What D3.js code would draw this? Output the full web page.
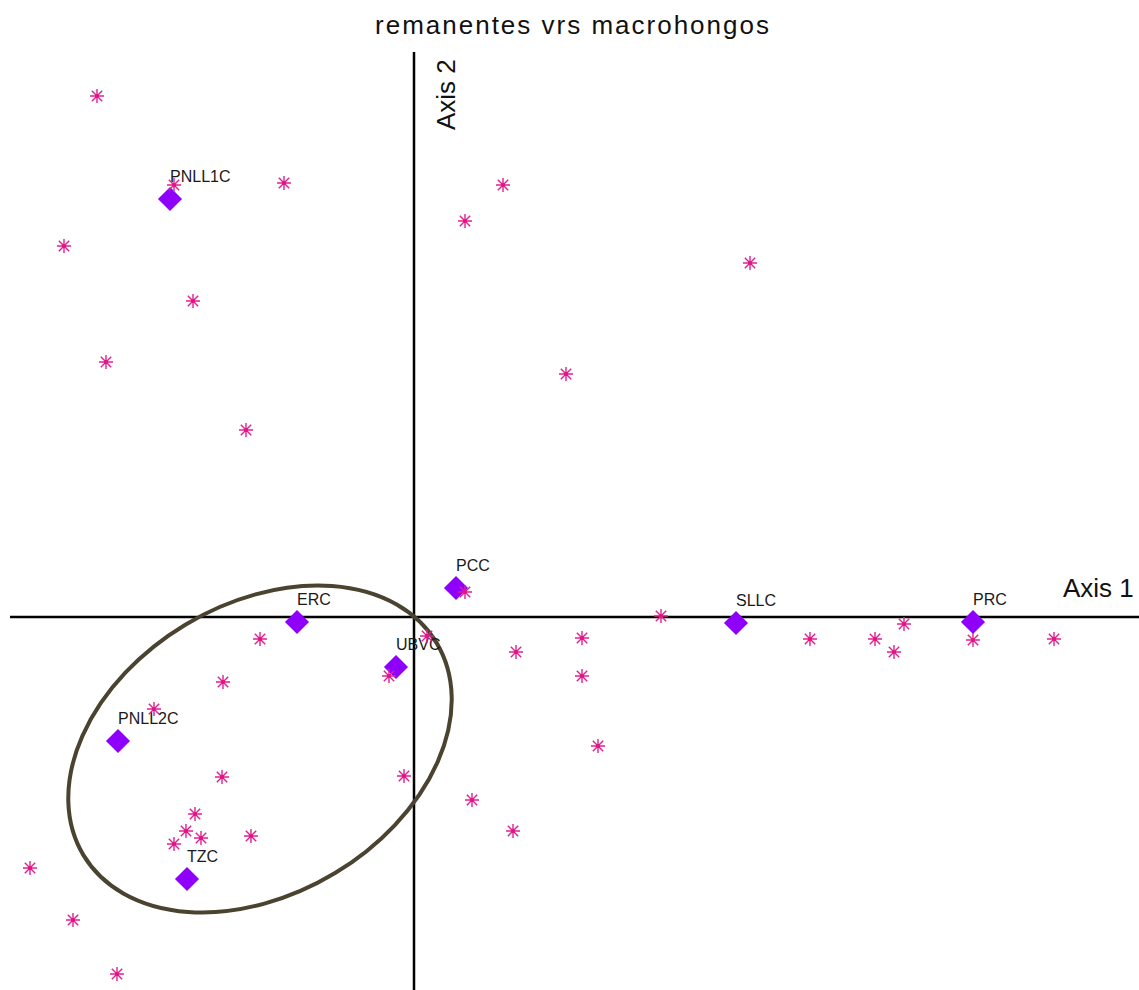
<!DOCTYPE html>
<html>
<head>
<meta charset="utf-8">
<script src="https://cdn.jsdelivr.net/npm/d3@7"></script>
<style>
  html, body { margin: 0; padding: 0; background: #fff; }
  svg { display: block; }
  text { font-family: Arial, "Liberation Sans", sans-serif; }
</style>
</head>
<body>
<svg id="chart" width="1139" height="990"></svg>
<script>
// Ordination scores: species (asterisks)
const speciesAxis1 = [-3.17, -2.40, -1.30, -3.50, -2.21, -3.08, -1.68, 0.89, 0.51, 3.36,
  1.52, 0.51, 2.47, -1.54, 0.13, -0.25, 1.68, 1.02, 1.68, 1.84,
  0.58, 0.99, -1.91, -2.60, -1.92, -0.10, -2.19, -2.28, -2.13, -2.40,
  -1.63, -3.84, -3.41, -2.97, 3.96, 4.61, 4.90, 4.80, 5.59, 6.40];
const speciesAxis2 = [5.21, 4.32, 4.34, 3.71, 3.16, 2.55, 1.87, 4.32, 3.96, 3.54,
  2.43, 0.25, 0.01, -0.22, -0.19, -0.59, -0.21, -0.35, -0.59, -1.29,
  -1.83, -2.14, -0.65, -0.92, -1.60, -1.59, -1.97, -2.14, -2.21, -2.27,
  -2.19, -2.51, -3.03, -3.57, -0.22, -0.22, -0.07, -0.35, -0.23, -0.22];

// Sites (diamonds)
const siteNames = ["PNLL1C", "PCC", "ERC", "UBVC", "SLLC", "PRC", "PNLL2C", "TZC"];
const siteAxis1 = [-2.44, 0.42, -1.17, -0.18, 3.22, 5.59, -2.96, -2.27];
const siteAxis2 = [4.18, 0.29, -0.05, -0.50, -0.06, -0.05, -1.24, -2.62];

// Grouping ellipse (centre, semi-axes in score units, tilt in degrees)
const groupCentre = [-1.54, -1.32];
const groupRadii = [2.06, 1.45];
const groupTilt = 31;

const title = "remanentes vrs macrohongos";
const axisNames = ["Axis 1", "Axis 2"];

const svg = d3.select("#chart");
const x = d3.scaleLinear().domain([-4.04, 7.25]).range([10, 1139]);
const y = d3.scaleLinear().domain([-3.73, 5.65]).range([990, 52]);

// Title
svg.append("text")
  .attr("x", 573).attr("y", 34)
  .attr("text-anchor", "middle")
  .attr("font-size", 26)
  .attr("letter-spacing", 2)
  .attr("fill", "#111")
  .text(title);

// Axes through the origin
svg.append("line")
  .attr("x1", x.range()[0]).attr("x2", x.range()[1])
  .attr("y1", y(0)).attr("y2", y(0))
  .attr("stroke", "#000").attr("stroke-width", 2.5);
svg.append("line")
  .attr("x1", x(0)).attr("x2", x(0))
  .attr("y1", y.range()[1]).attr("y2", y.range()[0])
  .attr("stroke", "#000").attr("stroke-width", 2.5);

svg.append("text")
  .attr("x", 1063).attr("y", y(0) - 20)
  .attr("font-size", 26).attr("fill", "#111")
  .text(axisNames[0]);
svg.append("text")
  .attr("transform", `translate(${x(0) + 41},130) rotate(-90)`)
  .attr("font-size", 26).attr("fill", "#111")
  .text(axisNames[1]);

// Ellipse around the lower-left group
const ecx = x(groupCentre[0]), ecy = y(groupCentre[1]);
svg.append("ellipse")
  .attr("cx", ecx).attr("cy", ecy)
  .attr("rx", x(groupCentre[0] + groupRadii[0]) - ecx)
  .attr("ry", y(groupCentre[1] - groupRadii[1]) - ecy)
  .attr("transform", `rotate(${-groupTilt},${ecx},${ecy})`)
  .attr("fill", "none")
  .attr("stroke", "#4a4330")
  .attr("stroke-width", 4);

// Sites
const sites = siteNames.map((n, i) => ({ name: n, a1: siteAxis1[i], a2: siteAxis2[i] }));
const diamond = d3.symbol().type(d3.symbolSquare).size(290);
const siteG = svg.append("g");
siteG.selectAll("path")
  .data(sites).join("path")
  .attr("d", diamond)
  .attr("transform", d => `translate(${x(d.a1)},${y(d.a2)}) rotate(45)`)
  .attr("fill", "#8e00fa");
siteG.selectAll("text")
  .data(sites).join("text")
  .attr("x", d => x(d.a1))
  .attr("y", d => y(d.a2) - 17)
  .attr("font-size", 16)
  .attr("fill", "#1a1a1a")
  .text(d => d.name);

// Species
const species = speciesAxis1.map((v, i) => ({ a1: v, a2: speciesAxis2[i] }));
const r = 7, rd = 5.2;
const asterisk = `M${-r},0L${r},0M0,${-r}L0,${r}M${-rd},${-rd}L${rd},${rd}M${-rd},${rd}L${rd},${-rd}`;
const spG = svg.append("g");
const sp = spG.selectAll("g")
  .data(species).join("g")
  .attr("transform", d => `translate(${x(d.a1)},${y(d.a2)})`);
sp.append("path")
  .attr("d", asterisk)
  .attr("stroke", "#e0208f")
  .attr("stroke-width", 1.4)
  .attr("fill", "none");
sp.append("circle")
  .attr("r", 2)
  .attr("fill", "#e0158a");
</script>
</body>
</html>
